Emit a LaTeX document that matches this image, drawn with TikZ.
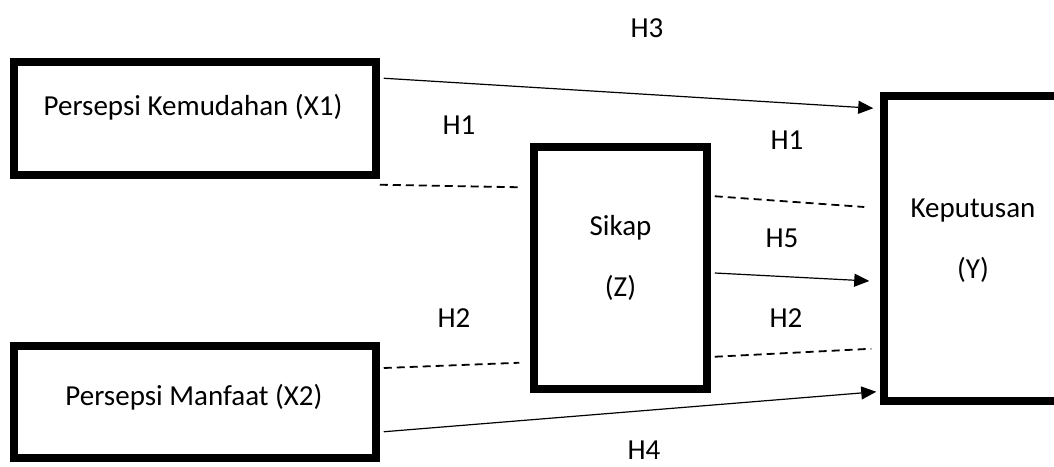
\documentclass[tikz,border=0pt]{standalone}
\usepackage{fontspec}
\setmainfont{Carlito}
\usetikzlibrary{arrows.meta}
\begin{document}
\begin{tikzpicture}[x=1pt, y=1pt,
    construct/.style ={rectangle, draw, line width=7.5pt, inner sep=0pt},
    vartext/.style ={font=\fontsize{29}{61}\selectfont, align=center, anchor=base},
    hyp/.style ={font=\fontsize{29}{35}\selectfont},
    effect/.style ={line width=1.2pt, -{Triangle[length=15pt, width=13pt]}},
    mediation/.style ={line width=1.8pt, dash pattern=on 8pt off 5pt}]
   \useasboundingbox (0,0) rectangle (1054,466);

   \node[construct, minimum width=362pt, minimum height=113pt] (X1) at (195,347.5) {};
   \node[construct, minimum width=362pt, minimum height=112pt] (X2) at (195,64) {};
   \node[construct, minimum width=173pt, minimum height=242pt] (Z) at (620.5,198) {};
   \node[construct, minimum width=178pt, minimum height=305pt] (Y) at (973,217.5) {};

   \node[vartext] (X1text) at (193,350) {Persepsi Kemudahan (X1)};
   \node[vartext] (X2text) at (194,61) {Persepsi Manfaat (X2)};
   \node[vartext] (Ztext) at (620.5,169) {Sikap\\(Z)};
   \node[vartext] (Ytext) at (973,187) {Keputusan\\(Y)};

   \draw[effect] ([xshift=4pt,yshift=-20pt]X1.north east) to ([xshift=-7pt,yshift=-16pt]Y.north west);
   \draw[mediation] ([yshift=-6pt]X1.south east) to ([xshift=-11pt,yshift=-44pt]Z.north west);
   \draw[mediation] ([xshift=4pt,yshift=-53pt]Z.north east) to ([xshift=-16pt,yshift=41.5pt]Y.west);
   \draw[effect] ([xshift=4pt,yshift=-5pt]Z.east) to ([xshift=-11pt,yshift=-32.5pt]Y.west);
   \draw[mediation] ([xshift=4pt,yshift=34pt]X2.east) to ([xshift=-11pt,yshift=30pt]Z.south west);
   \draw[mediation] ([xshift=4pt,yshift=36pt]Z.south east) to ([xshift=-9pt,yshift=56pt]Y.south west);
   \draw[effect] ([xshift=4pt,yshift=30pt]X2.south east) to ([xshift=-4pt,yshift=13pt]Y.south west);

   \node[hyp] (H3) at (647,438) {H3};
   \node[hyp] (H1a) at (459,341) {H1};
   \node[hyp] (H1b) at (787,326) {H1};
   \node[hyp] (H5) at (782,228) {H5};
   \node[hyp] (H2a) at (454,148) {H2};
   \node[hyp] (H2b) at (786,148) {H2};
   \node[hyp] (H4) at (644,16) {H4};

 \end{tikzpicture}
\end{document}
